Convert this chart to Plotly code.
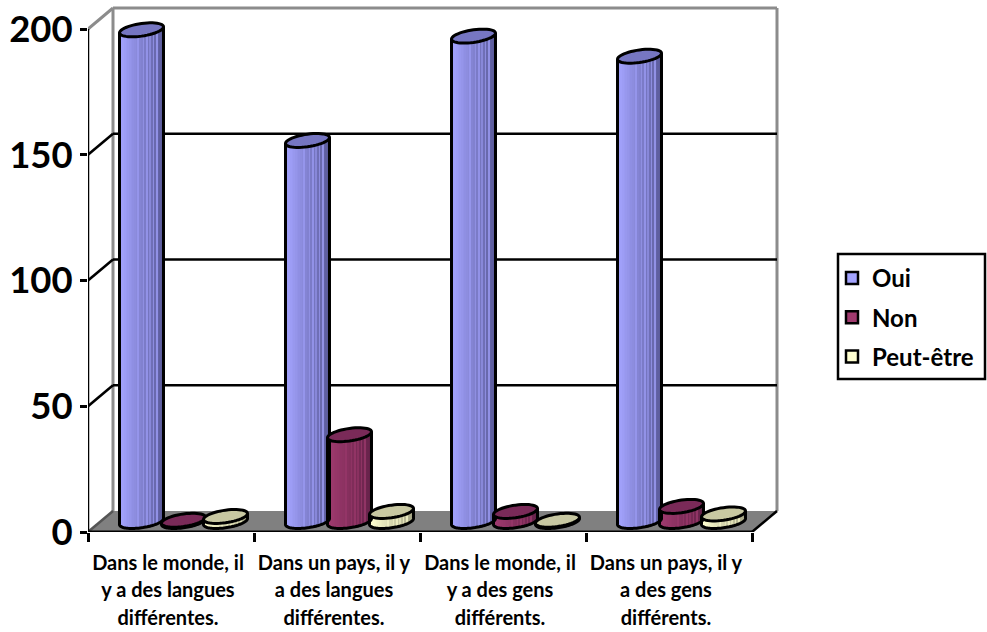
import math
import plotly.graph_objects as go

categories = [
    ["Dans le monde, il", "y a des langues", "différentes."],
    ["Dans un pays, il y", "a des langues", "différentes."],
    ["Dans le monde, il", "y a des gens", "différents."],
    ["Dans un pays, il y", "a des gens", "différents."],
]
oui = [195.5, 151.5, 193, 185]
non = [0.5, 34.5, 4, 6]
peut_etre = [2, 4, 0.5, 3]
series_names = ["Oui", "Non", "Peut-être"]
y_ticks = [0, 50, 100, 150, 200]

side_light = ["#A4A4FF", "#A03A6E", "#FFFFD0"]
side_dark = ["#5C5C9C", "#66234A", "#A8A888"]
top_fill = ["#7676C2", "#7A2A58", "#C8C8A2"]

W, H = 987, 632
LEFT, BOTTOM = 88, 532          # pixel of the axes origin
PXX, PXY = 166.0, 2.515         # pixels per category / per y unit
TOP_PX, RIGHT_PX = 4, 786
DEPTH_X, DEPTH_Y = 25, 21       # pixel depth of the 3D box
RX, RY, SKEW = 22.0, 6.3, 3.0   # cylinder ellipse in pixels
BASE_UP = 10.5                  # cylinder base lift in pixels
FIRST = 53.5 / PXX
STEP = 42 / PXX
N_STRIP = 26
STREAK = {11: .5, 14: .55, 16: .4, 18: .55, 20: .4, 22: .3}


def dx(p):
    return p / PXX


def dy(p):
    return p / PXY


def mix(c1, c2, t):
    a = [int(c1[i:i + 2], 16) for i in (1, 3, 5)]
    b = [int(c2[i:i + 2], 16) for i in (1, 3, 5)]
    return "rgb(%d,%d,%d)" % tuple(round(u + (v - u) * t) for u, v in zip(a, b))


def ellipse_points(cx, cy, start=0, stop=360, n=48):
    pts = []
    for i in range(n + 1):
        t = math.radians(start + (stop - start) * i / n)
        pts.append((cx + dx(RX * math.cos(t)), cy + dy(SKEW * math.cos(t) + RY * math.sin(t))))
    return pts


def to_path(pts, close=False):
    s = "M " + " L ".join(f"{x:.4f},{y:.3f}" for x, y in pts)
    return s + (" Z" if close else "")


def line(x0, y0, x1, y1, color="black", width=2.5, layer="below"):
    return dict(type="line", xref="x", yref="y", x0=x0, y0=y0, x1=x1, y1=y1,
                line=dict(color=color, width=width), layer=layer)


n_cat = len(categories)
shapes = []

# floor
bd_x, bd_y = dx(DEPTH_X), dy(DEPTH_Y)
shapes.append(dict(type="path", xref="x", yref="y", layer="below",
                   path=to_path([(0, 0), (n_cat, 0), (n_cat + bd_x, bd_y), (bd_x, bd_y)], True),
                   fillcolor="#808080", line=dict(width=0)))
# walls
GREY = "#8C8C8C"
top_v = y_ticks[-1]
shapes.append(line(bd_x, bd_y, bd_x, top_v + bd_y, GREY, 3))
shapes.append(line(n_cat + bd_x, bd_y, n_cat + bd_x, top_v + bd_y, GREY, 3))
shapes.append(line(bd_x, top_v + bd_y, n_cat + bd_x, top_v + bd_y, GREY, 3))
shapes.append(line(0, top_v, bd_x, top_v + bd_y, GREY, 3))
# gridlines on back and side walls
for v in y_ticks[1:-1]:
    shapes.append(line(bd_x, v + bd_y, n_cat + bd_x, v + bd_y))
    shapes.append(line(0, v, bd_x, v + bd_y))
shapes.append(line(0, 0, bd_x, bd_y, "#555555"))
shapes.append(line(n_cat, 0, n_cat + bd_x, bd_y))
# axis lines
shapes.append(line(0, 0, 0, top_v))
shapes.append(line(0, 0, n_cat, 0, width=3))

fig = go.Figure()
base = dy(BASE_UP)
values = [oui, non, peut_etre]

for s, vals in enumerate(values):
    centers = [c + FIRST + s * STEP for c in range(n_cat)]
    # the value bar that carries the legend entry
    fig.add_trace(go.Bar(
        name=series_names[s], legendgroup=series_names[s],
        x=centers, y=vals, base=[base] * n_cat, width=dx(2 * RX) * 0.7,
        marker=dict(color=side_light[s], line=dict(color="black", width=2.5)),
    ))
    # shaded strips that round the bar
    xs, ys, bs, cols = [], [], [], []
    sw = 2 * RX / N_STRIP
    for c, v in zip(centers, vals):
        for i in range(N_STRIP):
            off = -RX + (i + .5) * sw
            u = off / RX
            low = base + dy(SKEW * u - RY * (1 - u * u) ** .5)
            top = base + v + dy(SKEW * u)
            xs.append(c + dx(off))
            bs.append(low)
            ys.append(top - low)
            t = (i / (N_STRIP - 1)) ** 1.1
            col = mix(side_light[s], side_dark[s], t)
            if i in STREAK:
                col = mix(side_light[s], side_dark[s], t * STREAK[i])
            cols.append(col)
    fig.add_trace(go.Bar(
        x=xs, y=ys, base=bs, width=dx(sw) * 1.15, showlegend=False,
        legendgroup=series_names[s], hoverinfo="skip",
        marker=dict(color=cols, line=dict(width=0)),
    ))

for c in range(n_cat):
    for s, vals in enumerate(values):
        cx = c + FIRST + s * STEP
        cy_top = base + vals[c]
        lower = ellipse_points(cx, base, 180, 360)
        shapes.append(dict(type="path", xref="x", yref="y", layer="above",
                           path=to_path([ellipse_points(cx, cy_top, 180, 180, 1)[0]] + lower +
                                        [ellipse_points(cx, cy_top, 0, 0, 1)[0]]),
                           line=dict(color="black", width=3)))
        shapes.append(dict(type="path", xref="x", yref="y", layer="above",
                           path=to_path(ellipse_points(cx, cy_top), True),
                           fillcolor=top_fill[s], line=dict(color="black", width=3)))

tick_text = ["<br>".join(f'<span style="font-size:20px">{t}</span>' for t in lab) for lab in categories]

plot_w = RIGHT_PX - LEFT
plot_h = BOTTOM - TOP_PX

# legend frame
shapes.append(dict(type="rect", xref="paper", yref="paper", layer="below",
                   x0=(838 - LEFT) / plot_w, x1=(985 - LEFT) / plot_w,
                   y0=(BOTTOM - 379) / plot_h, y1=(BOTTOM - 254) / plot_h,
                   line=dict(color="black", width=2.5), fillcolor="white"))

fig.update_layout(
    width=W, height=H, autosize=False,
    margin=dict(l=LEFT, r=W - RIGHT_PX, t=TOP_PX, b=H - BOTTOM, pad=0),
    paper_bgcolor="white", plot_bgcolor="white",
    barmode="overlay", bargap=0,
    font=dict(family="Lato", color="black", weight=700),
    shapes=shapes,
    showlegend=True,
    legend=dict(
        x=(832 - LEFT) / plot_w, y=(BOTTOM - 256) / plot_h, xanchor="left", yanchor="top",
        borderwidth=0, bgcolor="rgba(0,0,0,0)",
        font=dict(size=24, family="Lato", weight=700),
        tracegroupgap=5, entrywidth=104, entrywidthmode="pixels",
    ),
    xaxis=dict(
        range=[0, plot_w / PXX], showgrid=False, zeroline=False, showline=False,
        tickmode="array", tickvals=[c + .5 - dx(3) for c in range(n_cat)], ticktext=tick_text,
        ticks="", tickfont=dict(size=21.5, family="Lato", weight=700, color="black"),
        ticklabelstandoff=15, tickangle=0,
        minor=dict(tickmode="array", tickvals=list(range(n_cat + 1)), ticks="outside",
                   ticklen=9, tickwidth=2.5, tickcolor="black", showgrid=False),
    ),
    yaxis=dict(
        range=[0, plot_h / PXY], showgrid=False, zeroline=False, showline=False,
        tickmode="array", tickvals=y_ticks, ticktext=[str(v) for v in y_ticks],
        ticks="outside", ticklen=7, tickwidth=2.5, tickcolor="black",
        tickfont=dict(size=36.5, family="Lato", weight=700, color="black"),
    ),
)

fig.write_html("out.html", config=dict(displayModeBar=False),
               post_script="document.body.style.margin='0';document.documentElement.style.overflow='hidden';")
